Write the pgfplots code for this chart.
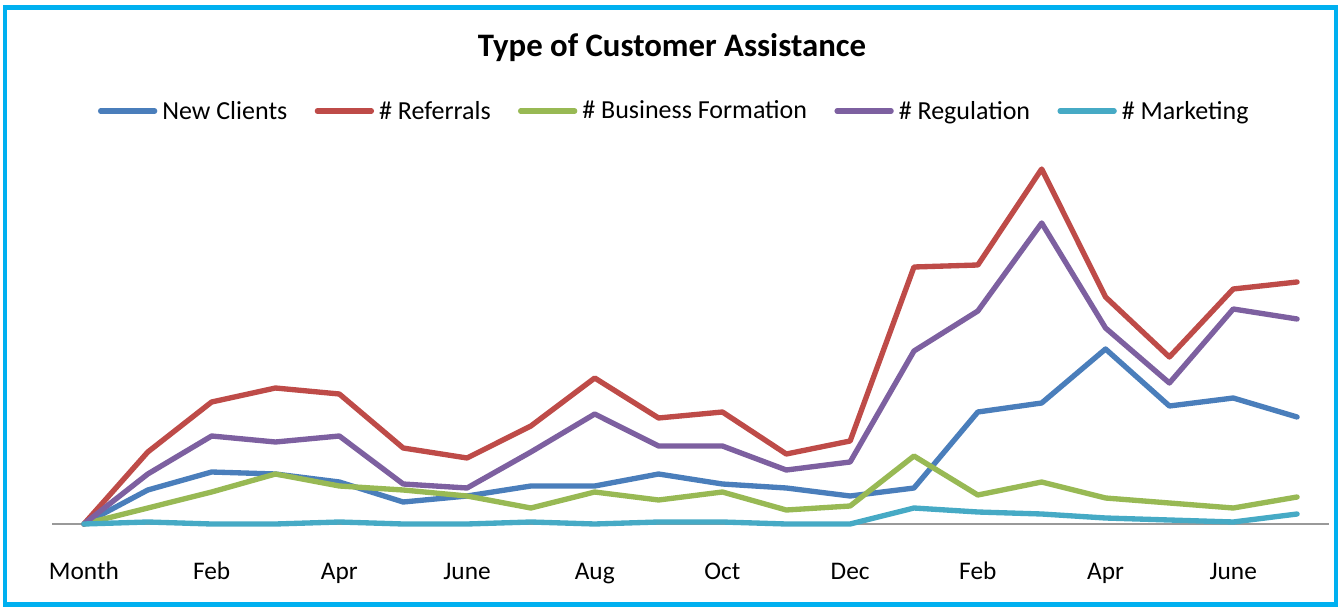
\documentclass[border=0pt]{standalone}
\usepackage{pgfplots}
\pgfplotsset{compat=1.18}
\usepackage{fontspec}
\setmainfont{Carlito}
\definecolor{cBlue}{HTML}{4A7EBB}
\definecolor{cRed}{HTML}{BE4B48}
\definecolor{cGreen}{HTML}{98B954}
\definecolor{cPurple}{HTML}{7D60A0}
\definecolor{cCyan}{HTML}{46AAC5}
\definecolor{cFrame}{HTML}{00B0F0}
\begin{document}
\begin{tikzpicture}[x=0.75pt,y=0.75pt]
\useasboundingbox (0,0) rectangle (1341,607);
\fill[white] (0,0) rectangle (1341,607);
\draw[cFrame, line width=3.2pt] (5,2.5) rectangle (1336,599.5);
\node[font=\fontsize{24.6}{28}\selectfont\bfseries] at (672,559) {Type of Customer Assistance};
\begin{axis}[
  at={(39pt,62.25pt)}, anchor=south west,
  scale only axis,
  width=957.75pt, height=288pt,
  xmin=-0.5, xmax=19.5, ymin=0, ymax=384,
  axis x line*=bottom, axis y line=none,
  x axis line style={draw=gray!80, line width=1pt, -},
  xtick={0,2,...,18},
  xticklabels={Month,Feb,Apr,June,Aug,Oct,Dec,Feb,Apr,June},
  major tick length=0pt,
  xticklabel style={font=\fontsize{19}{22}\selectfont, anchor=base, yshift=-41.25pt},
  clip=false,
  every axis plot/.append style={line width=4pt, line join=round, line cap=round, no markers},
  legend columns=5,
  legend style={at={(rel axis cs:0.4865,1.0755)}, anchor=center, draw=none, fill=none,
    font=\fontsize{19.5}{22}\selectfont, inner sep=0pt,
    nodes={inner sep=0pt, anchor=west},
    /tikz/every odd column/.append style={column sep=3.75pt},
    /tikz/every even column/.append style={column sep=20.5pt}},
  legend image code/.code={\draw[#1, line cap=round] (0pt,0pt) -- (40.5pt,0pt);},
]
\addplot[cBlue] coordinates {(0,0)(1,34)(2,52)(3,50)(4,42)(5,22)(6,28)(7,38)(8,38)(9,50)(10,40)(11,36)(12,28)(13,36)(14,112)(15,121)(16,175)(17,118)(18,126)(19,107)};
\addlegendentry{New Clients}
\addplot[cRed] coordinates {(0,0)(1,72)(2,122)(3,136)(4,130)(5,76)(6,66)(7,98)(8,146)(9,106)(10,112)(11,70)(12,83)(13,257)(14,259)(15,355)(16,227)(17,167)(18,235)(19,242)};
\addlegendentry{\# Referrals}
\addplot[cGreen] coordinates {(0,0)(1,16)(2,32)(3,50)(4,38)(5,34)(6,28)(7,16)(8,32)(9,24)(10,32)(11,14)(12,18)(13,68)(14,29)(15,42)(16,26)(17,21)(18,16)(19,27)};
\addlegendentry{\# Business Formation}
\addplot[cPurple] coordinates {(0,0)(1,50)(2,88)(3,82)(4,88)(5,40)(6,36)(7,72)(8,110)(9,78)(10,78)(11,54)(12,62)(13,173)(14,213)(15,301)(16,196)(17,141)(18,215)(19,205)};
\addlegendentry{\# Regulation}
\addplot[cCyan] coordinates {(0,0)(1,2)(2,0)(3,0)(4,2)(5,0)(6,0)(7,2)(8,0)(9,2)(10,2)(11,0)(12,0)(13,16)(14,12)(15,10)(16,6)(17,4)(18,2)(19,10)};
\addlegendentry{\# Marketing}
\end{axis}
\end{tikzpicture}
\end{document}
